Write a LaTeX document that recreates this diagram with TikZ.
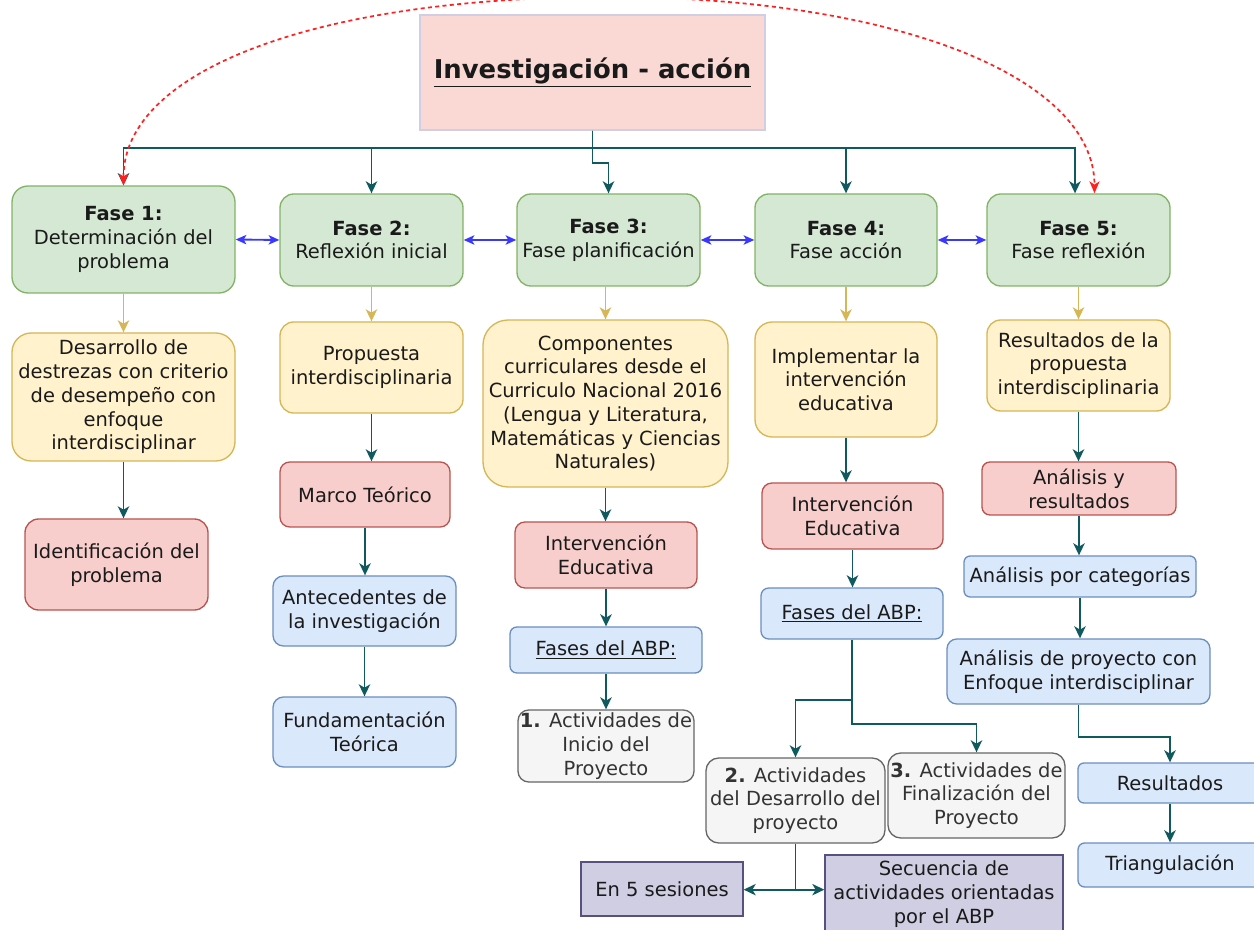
\documentclass[tikz,border=0pt]{standalone}
\usepackage{fontspec}
\setmainfont{DejaVu Sans}
\usetikzlibrary{arrows.meta,calc}
\definecolor{gfill}{HTML}{D5E8D4}\definecolor{gline}{HTML}{82B366}
\definecolor{yfill}{HTML}{FFF2CC}\definecolor{yline}{HTML}{D6B656}
\definecolor{rfill}{HTML}{F8CECC}\definecolor{rline}{HTML}{B85450}
\definecolor{bfill}{HTML}{DAE8FC}\definecolor{bline}{HTML}{6C8EBF}
\definecolor{kfill}{HTML}{F5F5F5}\definecolor{kline}{HTML}{666666}
\definecolor{pfill}{HTML}{D0CEE2}\definecolor{pline}{HTML}{56517E}
\definecolor{tfill}{HTML}{FAD9D5}\definecolor{tline}{HTML}{D0CEE2}
\definecolor{tealc}{HTML}{10595F}
\definecolor{arrblue}{HTML}{3838FF}
\definecolor{arrred}{HTML}{FF2020}
\definecolor{txt}{HTML}{1A1A1A}
\definecolor{txtg}{HTML}{333333}
\newcommand\fs{\fontsize{14.6}{17.8}\selectfont}
% style, name, x1, y1, x2, y2, text  (pixel corners)
\newcommand\mybox[7]{%
  \pgfmathsetmacro\rr{0.15*min(#5-#3,#6-#4)*0.75}%
  \node[#1,rounded corners=\rr pt,minimum width={(#5-#3)*0.75pt},minimum height={(#6-#4)*0.75pt}]
    (#2) at ({(#3+#5)/2},{(#4+#6)/2}) {#7};}
\newcommand\mysbox[7]{%
  \node[#1,minimum width={(#5-#3)*0.75pt},minimum height={(#6-#4)*0.75pt}]
    (#2) at ({(#3+#5)/2},{(#4+#6)/2}) {#7};}
\begin{document}
\begin{tikzpicture}[x=0.75pt,y=-0.75pt,
  base/.style={draw, line width=1pt, inner sep=0pt, align=center, font=\fs, text=txt},
  gbox/.style={base, fill=gfill, draw=gline},
  ybox/.style={base, fill=yfill, draw=yline},
  rbox/.style={base, fill=rfill, draw=rline},
  bbox/.style={base, fill=bfill, draw=bline},
  kbox/.style={base, fill=kfill, draw=kline, text=txtg},
  pbox/.style={base, fill=pfill, draw=pline},
  tbox/.style={base, fill=tfill, draw=tline, font=\fontsize{19.4}{23}\selectfont\bfseries},
  tl/.style={draw=tealc, line width=1.4pt, -{Stealth[length=9pt,width=8.5pt,inset=2.5pt]}},
  tlplain/.style={draw=tealc, line width=1.4pt},
  yl/.style={draw=yline, line width=1.3pt, -{Stealth[length=9pt,width=8.5pt,inset=2.5pt]}},
  bl/.style={draw=arrblue, line width=1.4pt, {Stealth[length=8pt,width=7pt,inset=2pt]}-{Stealth[length=8pt,width=7pt,inset=2pt]}},
  rl/.style={draw=arrred, line width=1.3pt, dash pattern=on 3pt off 2.5pt, {Stealth[length=9pt,width=7.5pt,inset=2.5pt]}-{Stealth[length=9pt,width=7.5pt,inset=2.5pt]}},
]
\useasboundingbox (0,0) rectangle (1254,930);

% title
\mysbox{tbox}{title}{420}{15}{765}{130}{\raisebox{-2pt}{\underline{Investigación - acción}}}

% phases
\mybox{gbox}{f1}{12}{186}{235}{293}{\textbf{Fase 1:}\\Determinación del\\problema}
\mybox{gbox}{f2}{280}{194}{463}{286}{\textbf{Fase 2:}\\Reflexión inicial}
\mybox{gbox}{f3}{517}{194}{700}{286}{\textbf{Fase 3:}\\Fase planificación}
\mybox{gbox}{f4}{755}{194}{937}{286}{\textbf{Fase 4:}\\Fase acción}
\mybox{gbox}{f5}{987}{194}{1170}{286}{\textbf{Fase 5:}\\Fase reflexión}

% yellow
\mybox{ybox}{y1}{12}{333}{235}{461}{Desarrollo de\\destrezas con criterio\\de desempeño con\\enfoque\\interdisciplinar}
\mybox{ybox}{y2}{280}{322}{463}{413}{Propuesta\\interdisciplinaria}
\mybox{ybox}{y3}{483}{320}{728}{487}{Componentes\\curriculares desde el\\Curriculo Nacional 2016\\(Lengua y Literatura,\\Matemáticas y Ciencias\\Naturales)}
\mybox{ybox}{y4}{755}{322}{937}{437}{Implementar la\\intervención\\educativa}
\mybox{ybox}{y5}{987}{320}{1170}{411}{Resultados de la\\propuesta\\interdisciplinaria}

% red
\mybox{rbox}{r1}{25}{519}{208}{610}{Identificación del\\problema}
\mybox{rbox}{r2}{280}{462}{450}{527}{Marco Teórico}
\mybox{rbox}{r3}{515}{522}{697}{588}{Intervención\\Educativa}
\mybox{rbox}{r4}{762}{483}{943}{549}{Intervención\\Educativa}
\mybox{rbox}{r5}{982}{462}{1176}{515}{Análisis y\\resultados}

% blue
\mybox{bbox}{b2a}{273}{576}{456}{646}{Antecedentes de\\la investigación}
\mybox{bbox}{b2b}{273}{697}{456}{767}{Fundamentación\\Teórica}
\mybox{bbox}{b3}{510}{627}{702}{673}{\underline{Fases del ABP:}}
\mybox{bbox}{b4}{761}{588}{943}{639}{\underline{Fases del ABP:}}
\mybox{bbox}{b5a}{964}{556}{1196}{597}{Análisis por categorías}
\mybox{bbox}{b5b}{947}{639}{1210}{704}{Análisis de proyecto con\\Enfoque interdisciplinar}
\mybox{bbox}{res}{1078}{763}{1262}{803}{Resultados}
\mybox{bbox}{tri}{1078}{843}{1262}{887}{Triangulación}

% grey
\mybox{kbox}{g1}{518}{710}{694}{782}{\textbf{1.} Actividades de\\Inicio del\\Proyecto}
\mybox{kbox}{g2}{706}{758}{885}{843}{\textbf{2.} Actividades\\del Desarrollo del\\proyecto}
\mybox{kbox}{g3}{888}{753}{1065}{838}{\textbf{3.} Actividades de\\Finalización del\\Proyecto}

% purple
\mysbox{pbox}{p1}{581}{862}{743}{916}{En 5 sesiones}
\mysbox{pbox}{p2}{825}{855}{1063}{933}{Secuencia de\\actividades orientadas\\por el ABP}

% title to phases
\coordinate (bus) at ($(title.south)+(0,17)$);
\draw[tl] (title.south) -- (bus) -| (f1.north);
\draw[tl] (title.south) -- (bus) -| (f2.north);
\draw[tl] (title.south) -- ($(title.south)+(0,32)$) -| (f3.north);
\draw[tl] (title.south) -- (bus) -| (f4.north);
\draw[tl] (title.south) -- (bus) -| ($(f5.north)+(-3.5,0)$);

% red dashed arc
\draw[rl] (f1.north) .. controls +(0,-116) and (320,-3) .. (608,-3)
  .. controls (896,-3) and +(0,-116) .. ($(f5.north)+(16,0)$);

% blue double arrows
\draw[bl] (f1.east) -- (f2.west);
\draw[bl] (f2.east) -- (f3.west);
\draw[bl] (f3.east) -- (f4.west);
\draw[bl] (f4.east) -- (f5.west);

% yellow arrows
\draw[yl] (f1.south) -- (y1.north);
\draw[yl] (f2.south) -- (y2.north);
\draw[yl] (y3.north |- f3.south) -- (y3.north);
\draw[yl] (f4.south) -- (y4.north);
\draw[yl] (f5.south) -- (y5.north);

% column 1
\draw[tl] (y1.south) -- (y1.south |- r1.north);
% column 2
\draw[tl] (y2.south) -- (y2.south |- r2.north);
\draw[tl] (r2.south) -- (r2.south |- b2a.north);
\draw[tl] (b2a.south) -- (b2a.south |- b2b.north);
% column 3
\draw[tl] (y3.south) -- (y3.south |- r3.north);
\draw[tl] (r3.south) -- (r3.south |- b3.north);
\draw[tl] (b3.south) -- (b3.south |- g1.north);
% column 4
\draw[tl] (y4.south) -- (y4.south |- r4.north);
\draw[tl] (r4.south) -- (r4.south |- b4.north);
\draw[tl] (b4.south) -- ++(0,60) -| (g2.north);
\draw[tl] (b4.south) -- ++(0,84) -| (g3.north);
\coordinate (j) at ($(g2.south)+(0,46)$);
\draw[tlplain] (g2.south) -- (j);
\draw[tl] (j) -- (p1.east |- j);
\draw[tl] (j) -- (p2.west |- j);
% column 5
\draw[tl] (y5.south) -- (y5.south |- r5.north);
\draw[tl] (r5.south) -- (r5.south |- b5a.north);
\draw[tl] (b5a.south) -- (b5a.south |- b5b.north);
\draw[tl] (b5b.south) -- ++(0,32) -| (res.north);
\draw[tl] (res.south) -- (tri.north);
\end{tikzpicture}
\end{document}
